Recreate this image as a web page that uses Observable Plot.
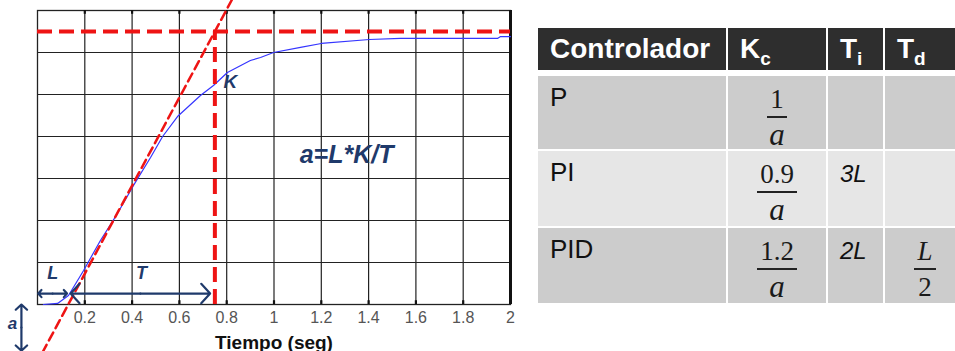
<!DOCTYPE html>
<html><head><meta charset="utf-8">
<script src="https://cdn.jsdelivr.net/npm/d3@7"></script>
<script src="https://cdn.jsdelivr.net/npm/@observablehq/plot@0.6"></script>
<style>
body{margin:0;background:#fff;}
#wrap{position:relative;width:955px;height:351px;overflow:hidden;font-family:"Liberation Sans",Arial,sans-serif;}
#chart{position:absolute;left:0;top:0;}
#table{position:absolute;left:538px;top:28px;}
.row{display:grid;grid-template-columns:188px 98px 55px 80px;column-gap:2px;}
.hdr{height:42px;}
.hdr div{background:#2e2e2e;color:#fff;font-weight:bold;font-size:28px;line-height:42px;padding-left:12px;box-sizing:border-box;white-space:nowrap;}
.hdr sub{font-size:19px;vertical-align:-7px;line-height:0;}
.body div.cell{position:relative;box-sizing:border-box;}
.lbl{position:absolute;left:12px;top:8px;font-size:26px;line-height:26px;color:#111;}
.it{position:absolute;left:12px;top:11px;font-size:24px;line-height:24px;font-style:italic;color:#111;}
.fracwrap{position:absolute;left:0;right:0;top:7px;text-align:center;}
.frac{display:inline-flex;flex-direction:column;align-items:center;font-family:"Liberation Serif","DejaVu Serif",serif;color:#1a1a1a;}
.num{font-size:27px;line-height:33px;padding:0 3px;border-bottom:2px solid #222;}
.den{font-size:31px;line-height:34px;font-style:italic;}
</style>
</head><body>
<div id="wrap"><div id="chart"></div><div id="table"></div></div>
<script>
// ---- chart data ----
const time     = [0.025,0.085,0.131,0.195,0.266,0.338,0.406,0.478,0.529,0.592,0.689,0.744,0.803,0.900,0.943,0.998,1.112,1.200,1.404,1.535,1.945,1.958,2.000];
const response = [0.000,0.005,0.043,0.162,0.305,0.433,0.567,0.700,0.800,0.895,0.995,1.043,1.105,1.162,1.176,1.200,1.224,1.243,1.262,1.267,1.267,1.276,1.276];
const xTicks = [0.2,0.4,0.6,0.8,1,1.2,1.4,1.6,1.8,2];
const yGrid  = [0.2,0.4,0.6,0.8,1.0,1.2];
const yDomain = [0, 1.4];
const K = 1.3;      // steady-state value
const L = 0.13;     // dead time
const tEnd = 0.75;  // L + T
const tangentRange = [-0.23, 1.45];
const aArrowX = -0.068, aArrowRange = [0, -0.22];
const arrowY = 0.052;
const tickLen = 0.018;

// ---- table data ----
const headers = ["Controlador", ["K","c"], ["T","i"], ["T","d"]];
const controllers = ["P","PI","PID"];
const kcNum = ["1","0.9","1.2"];
const kcDen = ["a","a","a"];
const tiVals = ["","3L","2L"];
const tdVals = [null,null,["L","2"]];
const rowBg = ["#cccccc","#e6e6e6","#cccccc"];
const rowH = [73,75,75];

const curve = time.map((t,i)=>({t, v: response[i]}));
const slope = K/(tEnd-L);
const tangent = tangentRange.map(y=>({x: L + y/slope, y}));
const navy = "#1f3a6b", red = "#ee1414";

// double-headed arrows: drawn as two arrows from the midpoint outwards
const spans = [
  {x1:0.003, x2:L-0.005, y1:arrowY, y2:arrowY},
  {x1:L+0.01, x2:tEnd-0.02, y1:arrowY, y2:arrowY},
  {x1:aArrowX, x2:aArrowX, y1:aArrowRange[0], y2:aArrowRange[1]}
];
const halves = spans.flatMap(s=>{
  const mx=(s.x1+s.x2)/2, my=(s.y1+s.y2)/2;
  return [{x1:mx,y1:my,x2:s.x1,y2:s.y1},{x1:mx,y1:my,x2:s.x2,y2:s.y2}];
});
const innerTicks = xTicks.slice(0,-1);

const plot = Plot.plot({
  width: 520, height: 351,
  marginLeft: 37, marginRight: 10, marginTop: 10, marginBottom: 47,
  x: {domain:[0,2], axis:null}, y: {domain:yDomain, axis:null},
  style: {fontFamily:"Liberation Sans, Arial, sans-serif", fontSize:"13px", background:"transparent", overflow:"visible"},
  marks: [
    Plot.ruleX(innerTicks, {stroke:"#222", strokeWidth:1.2}),
    Plot.ruleY(yGrid, {stroke:"#222", strokeWidth:1.2}),
    Plot.frame({stroke:"#222", strokeWidth:1.3}),
    Plot.ruleX([2], {stroke:"#111", strokeWidth:3}),
    Plot.ruleX(innerTicks, {y1:yDomain[0], y2:yDomain[0]+tickLen, stroke:"#111", strokeWidth:2.2}),
    Plot.ruleX(innerTicks, {y1:yDomain[1]-tickLen, y2:yDomain[1], stroke:"#111", strokeWidth:2.2}),
    Plot.line(curve, {x:"t", y:"v", stroke:"#3535ff", strokeWidth:1.2}),
    Plot.ruleY([K], {stroke:red, strokeWidth:4, strokeDasharray:"15,7"}),
    Plot.ruleX([tEnd], {y1:0, y2:K, stroke:red, strokeWidth:4, strokeDasharray:"15,7"}),
    Plot.line(tangent, {x:"x", y:"y", stroke:red, strokeWidth:2.5, strokeDasharray:"9,5"}),
    Plot.arrow(halves, {x1:"x1", y1:"y1", x2:"x2", y2:"y2", stroke:navy, strokeWidth:2.2, headLength:9, headAngle:95}),
    Plot.text(["L"], {x:L/2, y:0.147, fill:navy, fontSize:18, fontWeight:"bold", fontStyle:"italic"}),
    Plot.text(["T"], {x:(L+tEnd)/2, y:0.147, fill:navy, fontSize:18, fontWeight:"bold", fontStyle:"italic"}),
    Plot.text(["a"], {x:-0.106, y:-0.09, fill:navy, fontSize:17, fontWeight:"bold", fontStyle:"italic"}),
    Plot.text(["K"], {x:0.816, y:1.062, fill:navy, fontSize:19, fontWeight:"bold", fontStyle:"italic"}),
    Plot.text(["a=L*K/T"], {x:1.307, y:0.71, fill:navy, fontSize:25, fontWeight:"bold", fontStyle:"italic"}),
    Plot.axisX(xTicks, {tickSize:0, tickPadding:7, tickFormat:d=>String(d), fill:"#555", fontSize:16, label:null}),
    Plot.text(["Tiempo (seg)"], {x:1, frameAnchor:"bottom", dy:44, fontSize:19, fontWeight:"bold", fill:"#111"})
  ]
});
document.getElementById("chart").appendChild(plot);

// ---- table ----
const tbl = document.getElementById("table");
const hdr = document.createElement("div"); hdr.className="row hdr";
headers.forEach(h=>{
  const d=document.createElement("div");
  d.innerHTML = Array.isArray(h) ? `${h[0]}<sub>${h[1]}</sub>` : h;
  hdr.appendChild(d);
});
tbl.appendChild(hdr);
const frac=(n,d,italNum)=>`<div class="fracwrap"><span class="frac"><span class="num"${italNum?' style="font-style:italic"':''}>${n}</span><span class="den"${italNum?' style="font-style:normal;font-size:27px"':''}>${d}</span></span></div>`;
controllers.forEach((c,i)=>{
  const r=document.createElement("div"); r.className="row body";
  r.style.height=rowH[i]+"px"; r.style.marginTop=(i===0?6:2)+"px";
  const cells=[
    `<span class="lbl">${c}</span>`,
    frac(kcNum[i],kcDen[i]),
    tiVals[i]?`<span class="it">${tiVals[i]}</span>`:"",
    tdVals[i]?frac(tdVals[i][0],tdVals[i][1],true):""
  ];
  cells.forEach(html=>{
    const d=document.createElement("div"); d.className="cell"; d.style.background=rowBg[i]; d.innerHTML=html; r.appendChild(d);
  });
  tbl.appendChild(r);
});
</script>
</body></html>
